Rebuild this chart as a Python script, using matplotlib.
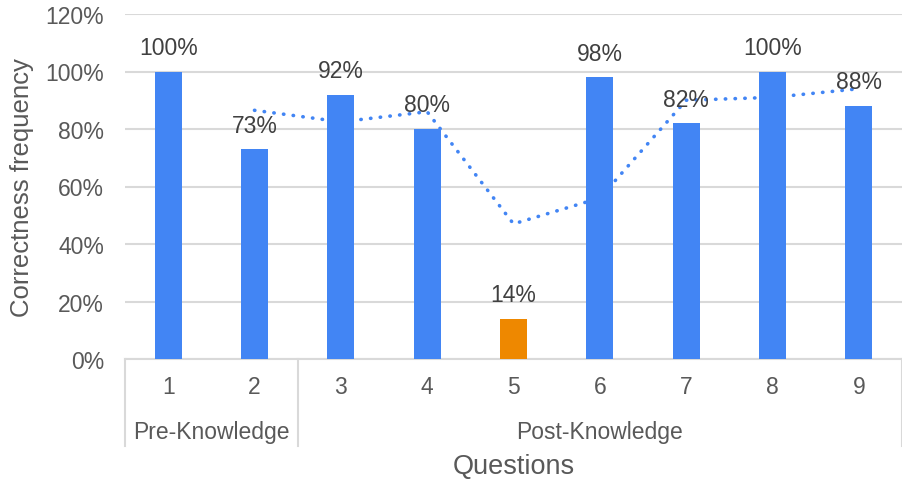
import numpy as np
import matplotlib.pyplot as plt

plt.rcParams['font.family'] = ['Liberation Sans', 'DejaVu Sans']

# Questions and correctness frequency (%)
questions = ['1', '2', '3', '4', '5', '6', '7', '8', '9']
correct = [100, 73, 92, 80, 14, 98, 82, 100, 88]
bar_colors = ['#4285F4', '#4285F4', '#4285F4', '#4285F4', '#EE8800',
              '#4285F4', '#4285F4', '#4285F4', '#4285F4']

# 2-period moving average trendline, starting at question 2
trend_x = [2, 3, 4, 5, 6, 7, 8, 9]
trend_y = [86.5, 82.5, 86, 47, 56, 90, 91, 94]

# Question groups: (label, first question, last question)
groups = [('Pre-Knowledge', 1, 2), ('Post-Knowledge', 3, 9)]

text_col = '#595959'
grid_col = '#D9D9D9'

fig = plt.figure(figsize=(9.03, 4.81), dpi=100)
ax = fig.add_axes([125/903, 1 - 360/481, 777/903, 345/481])

x = np.arange(1, len(questions) + 1)
ax.plot(trend_x, trend_y, color='#4285F4', lw=2.6, linestyle=(0, (0.1, 2.6)),
        solid_capstyle='round', dash_capstyle='round', zorder=2)
bars = ax.bar(x, correct, width=0.31, color=bar_colors, zorder=3)

for xi, v in zip(x, correct):
    ax.annotate(f'{v}%', (xi, v), xytext=(0, 9), textcoords='offset points',
                ha='center', va='bottom', fontsize=16.5, color='#404040', zorder=4)

ax.set_xlim(0.5, len(questions) + 0.5)
ax.set_ylim(0, 120)
ax.set_yticks(np.arange(0, 121, 20))
ax.set_yticklabels([f'{t}%' for t in range(0, 121, 20)])
ax.yaxis.grid(True, color=grid_col, lw=1.5, zorder=0)
ax.set_axisbelow(True)
ax.tick_params(axis='y', length=0, pad=15, labelsize=16.5, labelcolor=text_col)
ax.set_xticks([])
for s in ['top', 'right', 'left']:
    ax.spines[s].set_visible(False)
ax.spines['bottom'].set_color(grid_col)
ax.spines['bottom'].set_linewidth(1.5)

ax.set_ylabel('Correctness frequency', fontsize=18.5, color=text_col, va='center')
ax.yaxis.set_label_coords((22 - 125) / 777, 0.5)

# multi-level category axis
tr = ax.get_xaxis_transform()
for xi, q in zip(x, questions):
    ax.text(xi, -0.08, q, transform=tr, ha='center', va='center',
            fontsize=16.5, color=text_col)
bounds = [0.5]
for name, a, b in groups:
    ax.text((a + b) / 2, -0.21, name, transform=tr, ha='center', va='center',
            fontsize=16.5, color=text_col)
    bounds.append(b + 0.5)
for bx in bounds:
    ax.plot([bx, bx], [0, -0.252], transform=tr, color=grid_col, lw=1.5,
            clip_on=False)

ax.text(0.5, -0.31, 'Questions', transform=ax.transAxes, ha='center', va='center',
        fontsize=19.5, color=text_col)

fig.savefig('out.png', dpi=100)
